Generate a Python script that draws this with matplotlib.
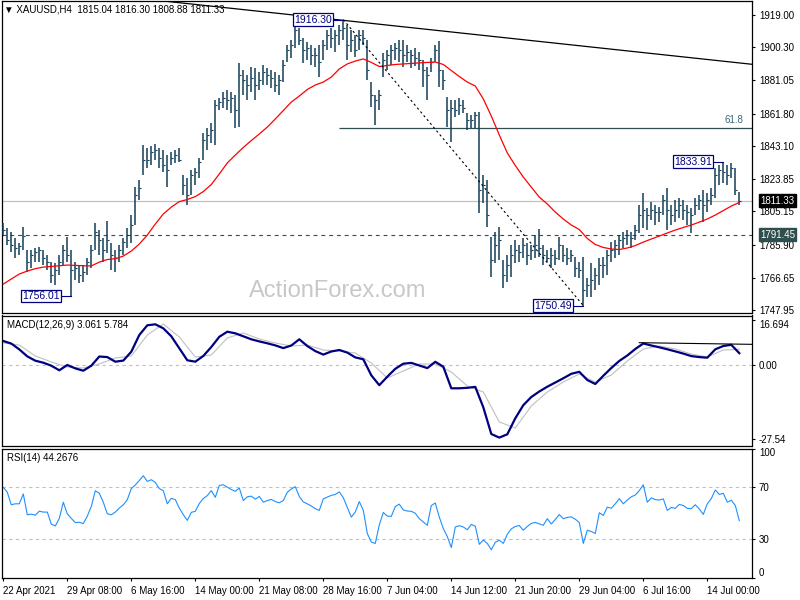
"""XAUUSD H4 chart with MACD and RSI panels (MT4 style)."""

import matplotlib

matplotlib.use("Agg")
import matplotlib.pyplot as plt  # noqa: E402
import matplotlib.transforms as mtransforms  # noqa: E402
import numpy as np  # noqa: E402

plt.rcParams["font.family"] = ["Liberation Sans", "DejaVu Sans"]

# ---- data ------------------------------------------------------------------
# price bars, one every 2nd H4 bar
BAR_STEP = 2
highs = [
    1798.4, 1795.5, 1793.1, 1789.7, 1786.8, 1796.0, 1782.7, 1782.7, 1783.9, 1784.4,
    1782.7, 1779.8, 1775.7, 1775.2, 1779.8, 1785.6, 1790.2, 1782.7, 1775.7, 1774.0,
    1774.0, 1778.1, 1785.6, 1798.4, 1794.3, 1789.7, 1799.5, 1786.8, 1782.7, 1785.6,
    1789.7, 1795.5, 1803.0, 1819.2, 1823.3, 1843.6, 1841.9, 1843.0, 1844.2, 1841.9,
    1840.7, 1837.8, 1839.5, 1840.7, 1841.9, 1826.2, 1824.5, 1829.1, 1830.3, 1836.1,
    1850.6, 1853.5, 1856.4, 1869.7, 1870.9, 1874.3, 1875.5, 1874.3, 1872.6, 1891.2,
    1887.1, 1884.2, 1888.8, 1888.3, 1885.9, 1890.0, 1888.3, 1887.1, 1885.9, 1884.2,
    1892.9, 1901.6, 1904.5, 1913.2, 1911.5, 1905.7, 1903.3, 1901.6, 1899.9, 1901.6,
    1904.5, 1910.3, 1911.5, 1910.3, 1913.2, 1916.3, 1913.2, 1910.3, 1907.4, 1910.3,
    1910.3, 1904.5, 1880.1, 1872.6, 1875.5, 1897.0, 1898.7, 1901.6, 1902.8, 1904.5,
    1904.5, 1901.6, 1898.7, 1899.9, 1897.5, 1892.9, 1888.8, 1894.1, 1901.6, 1903.9,
    1887.1, 1871.4, 1869.7, 1869.7, 1870.9, 1869.7, 1862.2, 1861.0, 1862.7, 1862.7,
    1826.2, 1823.3, 1790.2, 1793.1, 1796.0, 1776.9, 1779.8, 1785.6, 1788.5, 1785.6,
    1789.7, 1786.8, 1785.6, 1791.4, 1794.9, 1785.6, 1782.7, 1783.9, 1782.7, 1790.2,
    1785.6, 1783.9, 1782.7, 1778.6, 1775.7, 1778.6, 1766.5, 1775.2, 1772.3, 1778.1,
    1778.6, 1782.7, 1787.3, 1788.5, 1791.4, 1793.1, 1794.3, 1793.1, 1797.2, 1808.8,
    1815.8, 1807.1, 1810.5, 1808.8, 1807.6, 1814.6, 1818.7, 1808.8, 1811.7, 1812.9,
    1811.7, 1808.8, 1807.1, 1812.9, 1814.6, 1817.5, 1815.8, 1818.7, 1830.3, 1832.0,
    1833.9, 1832.0, 1833.2, 1830.3, 1816.3,
]
lows = [
    1791.4, 1785.6, 1781.5, 1778.1, 1779.8, 1782.7, 1769.9, 1772.3, 1775.7, 1775.7,
    1774.0, 1771.1, 1763.6, 1762.4, 1768.2, 1774.0, 1775.7, 1756.0, 1765.3, 1763.6,
    1764.1, 1768.2, 1772.3, 1782.7, 1779.8, 1775.7, 1781.0, 1771.1, 1769.9, 1775.7,
    1779.8, 1783.9, 1786.8, 1797.2, 1811.7, 1826.2, 1830.3, 1832.0, 1834.9, 1830.3,
    1827.9, 1819.2, 1832.0, 1833.2, 1833.9, 1814.6, 1808.8, 1814.6, 1820.4, 1824.5,
    1834.9, 1840.7, 1844.8, 1843.6, 1863.9, 1865.1, 1863.9, 1862.2, 1853.5, 1854.0,
    1872.6, 1869.7, 1874.3, 1869.7, 1875.5, 1878.4, 1878.4, 1876.7, 1874.3, 1872.6,
    1880.1, 1891.7, 1894.1, 1899.9, 1901.6, 1891.2, 1892.9, 1890.0, 1888.8, 1883.0,
    1892.9, 1898.7, 1899.9, 1897.5, 1901.6, 1904.5, 1892.9, 1897.5, 1894.6, 1898.7,
    1901.6, 1881.3, 1865.6, 1855.2, 1863.9, 1883.0, 1887.1, 1890.0, 1892.9, 1891.7,
    1888.8, 1891.7, 1888.3, 1889.4, 1887.1, 1877.2, 1869.7, 1885.9, 1891.7, 1877.2,
    1875.5, 1854.0, 1845.3, 1859.8, 1861.0, 1862.2, 1852.3, 1853.5, 1853.5, 1804.2,
    1810.0, 1796.0, 1767.0, 1775.2, 1776.9, 1760.7, 1764.1, 1767.0, 1775.2, 1775.7,
    1778.1, 1774.0, 1776.9, 1778.1, 1778.6, 1774.0, 1775.7, 1772.3, 1774.0, 1776.9,
    1775.7, 1774.0, 1775.7, 1767.0, 1766.5, 1750.5, 1755.4, 1755.4, 1759.5, 1762.4,
    1766.5, 1768.2, 1775.7, 1778.1, 1779.8, 1783.9, 1785.6, 1783.9, 1788.5, 1792.6,
    1795.5, 1794.3, 1800.1, 1797.2, 1798.9, 1803.0, 1794.3, 1797.2, 1798.9, 1801.3,
    1800.1, 1797.2, 1792.6, 1803.0, 1805.9, 1798.9, 1804.7, 1808.8, 1812.9, 1820.4,
    1821.6, 1820.4, 1824.5, 1814.6, 1808.9,
]
closes = [
    1794.3, 1788.5, 1785.6, 1783.9, 1785.0, 1790.8, 1775.7, 1779.8, 1781.5, 1782.7,
    1778.1, 1775.7, 1768.2, 1771.1, 1775.7, 1782.7, 1779.8, 1771.1, 1772.3, 1768.2,
    1769.9, 1775.7, 1782.7, 1793.1, 1788.5, 1782.7, 1788.5, 1779.8, 1778.1, 1782.7,
    1787.3, 1791.4, 1797.2, 1814.6, 1818.7, 1834.9, 1834.9, 1839.5, 1840.7, 1836.1,
    1832.0, 1829.1, 1836.1, 1837.8, 1834.9, 1820.4, 1814.6, 1826.2, 1827.9, 1833.7,
    1846.5, 1849.4, 1852.3, 1866.8, 1868.5, 1870.9, 1869.7, 1870.9, 1863.9, 1884.2,
    1881.3, 1878.4, 1882.5, 1878.4, 1881.3, 1885.9, 1884.2, 1882.5, 1878.4, 1881.3,
    1890.0, 1898.7, 1901.6, 1910.3, 1904.5, 1898.7, 1899.9, 1895.8, 1895.8, 1891.7,
    1901.6, 1907.4, 1905.7, 1907.4, 1910.3, 1911.5, 1901.6, 1904.5, 1898.7, 1907.4,
    1905.7, 1887.1, 1872.6, 1869.7, 1872.6, 1892.9, 1895.8, 1898.7, 1899.9, 1898.7,
    1895.8, 1897.5, 1895.8, 1894.1, 1892.9, 1887.1, 1884.2, 1891.7, 1898.7, 1887.1,
    1881.3, 1863.9, 1865.1, 1863.9, 1866.8, 1865.1, 1858.1, 1858.1, 1861.0, 1817.5,
    1820.4, 1803.0, 1776.9, 1785.6, 1788.5, 1768.2, 1774.0, 1779.8, 1782.7, 1781.5,
    1785.6, 1779.8, 1782.7, 1785.6, 1783.9, 1779.8, 1778.1, 1779.8, 1778.1, 1785.6,
    1779.8, 1778.1, 1779.8, 1772.3, 1771.1, 1759.5, 1762.4, 1765.3, 1768.2, 1774.0,
    1774.0, 1779.8, 1782.7, 1785.6, 1788.5, 1789.7, 1791.4, 1789.7, 1794.3, 1803.0,
    1805.9, 1803.0, 1805.9, 1804.7, 1804.7, 1811.7, 1805.9, 1803.0, 1805.9, 1808.8,
    1805.9, 1804.7, 1803.0, 1808.8, 1811.7, 1808.8, 1811.7, 1814.6, 1826.2, 1829.1,
    1827.9, 1826.2, 1830.3, 1817.5, 1811.3,
]

# moving average and MACD main line, sampled every 4 bars
LINE_STEP = 4
ma_line = [
    1763.0, 1765.9, 1768.8, 1770.5, 1771.9, 1772.8, 1773.2, 1773.6, 1774.0, 1773.8,
    1773.6, 1773.5, 1775.7, 1777.2, 1777.7, 1779.2, 1782.1, 1786.2, 1791.4, 1797.8,
    1803.6, 1807.6, 1810.8, 1812.0, 1813.7, 1816.6, 1820.7, 1826.8, 1833.2, 1837.8,
    1842.2, 1846.2, 1850.0, 1854.0, 1858.7, 1863.6, 1868.5, 1872.0, 1875.8, 1878.4,
    1880.1, 1883.0, 1887.7, 1890.6, 1892.3, 1893.5, 1891.5, 1889.1, 1889.7, 1890.3,
    1890.6, 1890.9, 1891.2, 1891.5, 1891.7, 1890.3, 1886.8, 1883.3, 1880.1, 1877.8,
    1870.3, 1860.4, 1849.4, 1839.0, 1831.7, 1825.0, 1819.2, 1813.4, 1809.4, 1804.7,
    1800.7, 1797.2, 1794.6, 1789.4, 1785.9, 1784.2, 1783.3, 1783.0, 1783.9, 1785.3,
    1787.3, 1789.1, 1790.8, 1792.6, 1794.3, 1795.8, 1797.2, 1798.9, 1800.7, 1803.0,
    1805.6, 1808.2, 1810.3,
]
macd_main = [
    8.92, 7.96, 5.80, 3.20, 1.60, 0.86, -0.26, -1.97, 0.00, -1.26,
    -2.12, -0.26, 3.16, 2.94, 1.23, 1.64, 4.94, 11.15, 14.76, 15.13,
    13.64, 10.67, 6.21, 1.75, 1.23, 3.35, 6.69, 10.48, 12.38, 11.78,
    10.67, 9.55, 8.77, 8.07, 7.29, 6.28, 7.25, 9.55, 7.06, 5.17,
    3.87, 5.02, 5.58, 4.61, 2.83, 2.12, -3.83, -7.51, -4.35, -1.41,
    0.48, 0.78, -0.19, -1.15, 1.19, -0.63, -8.66, -8.66, -8.48, -8.14,
    -15.72, -25.65, -26.99, -25.76, -19.81, -14.94, -11.90, -9.85, -8.07, -6.51,
    -4.94, -3.27, -2.53, -5.58, -7.06, -4.01, -1.12, 1.52, 3.53, 5.95,
    7.99, 7.25, 6.58, 5.84, 5.06, 4.24, 3.31, 2.94, 2.71, 5.84,
    7.06, 7.51, 4.39,
]
# MACD signal line, sampled every 8 bars
SIG_STEP = 8
macd_signal = [
    8.18, 7.43, 3.35, 1.12, -0.74, -1.12, 0.37, 2.60, 3.35, 11.15,
    15.24, 10.41, 2.97, 3.72, 10.04, 11.90, 9.67, 8.18, 7.06, 7.43,
    5.58, 5.20, 4.46, 0.74, -4.83, -2.23, 0.37, 0.37, -2.60, -7.81,
    -10.04, -21.19, -23.42, -15.24, -10.04, -6.32, -3.35, -6.32, -3.72, 1.49,
    5.95, 7.06, 5.95, 4.09, 2.97, 5.58, 5.78,
]

# RSI(14) sampled every 2 bars
RSI_STEP = 2
rsi_line = [
    70.0, 66.2, 56.5, 57.3, 57.3, 64.9, 48.9, 49.3, 48.5, 51.6,
    50.9, 50.9, 41.6, 40.2, 46.0, 58.5, 49.6, 46.0, 42.8, 43.0,
    42.0, 47.8, 55.2, 67.4, 65.4, 58.5, 49.6, 48.8, 50.9, 54.0,
    56.5, 60.5, 69.0, 71.8, 75.3, 79.0, 74.6, 75.9, 73.8, 69.1,
    67.4, 57.3, 61.5, 60.5, 54.0, 48.9, 44.5, 50.7, 51.5, 57.5,
    61.4, 63.6, 67.5, 62.3, 71.5, 72.0, 70.1, 68.3, 66.9, 69.5,
    59.8, 62.7, 63.2, 60.9, 63.0, 58.5, 59.8, 60.7, 59.0, 58.1,
    59.8, 66.2, 68.8, 70.5, 62.9, 58.7, 57.3, 55.6, 53.5, 52.2,
    61.1, 62.5, 63.8, 64.5, 66.5, 62.0, 54.4, 47.0, 51.0, 59.0,
    52.2, 34.4, 27.7, 26.7, 41.0, 50.6, 47.8, 47.6, 55.2, 57.0,
    52.6, 51.7, 51.5, 50.0, 45.8, 43.3, 40.7, 56.0, 57.9, 47.0,
    38.2, 32.0, 23.5, 39.4, 40.4, 39.4, 37.3, 41.4, 40.0, 26.0,
    29.3, 26.7, 21.8, 27.6, 29.2, 26.7, 33.8, 37.9, 39.8, 40.5,
    36.9, 39.8, 42.2, 42.9, 41.8, 40.7, 45.8, 41.7, 45.2, 49.0,
    45.8, 46.8, 47.2, 45.4, 42.8, 26.7, 36.9, 35.9, 34.4, 50.4,
    48.3, 54.7, 53.9, 57.3, 61.3, 57.3, 60.2, 62.7, 64.1, 67.5,
    72.0, 58.5, 61.9, 60.5, 60.2, 61.1, 52.2, 54.5, 53.8, 56.8,
    56.0, 53.8, 53.5, 56.6, 53.3, 49.1, 57.3, 61.3, 68.0, 64.5,
    65.4, 58.5, 60.1, 56.0, 44.3,
]

# annotations
trend_bars = [80, 380]
trend_prices = [1927.1, 1889.7]
swing_bars = [170, 290]
swing_prices = [1916.30, 1750.49]
extreme_bars = [34, 170, 290, 360]
extreme_prices = [1756.01, 1916.30, 1750.49, 1833.91]
fib_start_bar = 168
fib_price = 1853.5
last_price = 1811.33
support_price = 1791.45
macd_tl_bars = [318, 380]
macd_tl_vals = [8.29, 7.62]

price_ticks = [1919.00, 1900.30, 1881.05, 1861.80, 1843.10,
               1823.85, 1805.15, 1785.90, 1766.65, 1747.95]
DATE_STEP = 32
date_labels = ["22 Apr 2021", "29 Apr 08:00", "6 May 16:00", "14 May 00:00",
               "21 May 08:00", "28 May 16:00", "7 Jun 04:00", "14 Jun 12:00",
               "21 Jun 20:00", "29 Jun 04:00", "6 Jul 16:00", "14 Jul 00:00"]

# ---- style -----------------------------------------------------------------
BAR_C = "#143f57"
MA_C = "#ff0000"
NAVY = "#000080"
SLATE = "#2f4f4f"
SILVER = "#c0c0c0"
RSI_C = "#1e90ff"
FS = 7

W, H = 800, 600
fig = plt.figure(figsize=(8, 6), dpi=100)


def panel(top, bottom):
    return fig.add_axes([2 / W, 1 - bottom / H, 750 / W, (bottom - top) / H])


ax = panel(1, 313)
am = panel(315.5, 446)
ar = panel(448.5, 578)

for a in (ax, am, ar):
    a.set_xlim(-0.65, 374.35)
    a.yaxis.tick_right()
    a.tick_params(axis="y", direction="out", length=2.5, width=0.8, labelsize=FS, pad=2.5)
    a.tick_params(axis="x", bottom=False, labelbottom=False)
    for s in a.spines.values():
        s.set_linewidth(0.9)

# ---- price panel -----------------------------------------------------------
bar_idx = np.arange(len(highs)) * BAR_STEP
ax.vlines(bar_idx, lows, highs, color=BAR_C, lw=1.1, zorder=3)
ax.hlines(closes, bar_idx, bar_idx + 0.7, color=BAR_C, lw=0.8, zorder=3)
ax.plot(np.arange(len(ma_line)) * LINE_STEP, ma_line, color=MA_C, lw=0.9, zorder=4)

ax.plot(trend_bars, trend_prices, color="black", lw=0.9, zorder=4)
ax.plot(swing_bars, swing_prices, color="black", lw=0.8, ls=(0, (2, 2.5)), zorder=4)
ax.axhline(last_price, color=SILVER, lw=0.9, zorder=1)
ax.axhline(support_price, color=SLATE, lw=0.8, ls=(0, (3.5, 3.5)), zorder=1)
ax.hlines(fib_price, fib_start_bar, 380, color=SLATE, lw=0.9, zorder=1)
ax.text(370, fib_price + 1.6, "61.8", color="#3a6578", fontsize=FS, ha="right", va="bottom")

for b, p in zip(extreme_bars, extreme_prices):
    ax.plot([b - 5, b], [p, p], color=NAVY, lw=0.8, zorder=5)
    ax.text(b - 5.6, p, f"{p:.2f}", color=NAVY, fontsize=7.5, ha="right", va="center",
            zorder=6, bbox={"boxstyle": "square,pad=0.12", "fc": "white", "ec": NAVY, "lw": 0.9})

ax.set_ylim(1746.2, 1927.1)
ax.set_yticks(price_ticks)
ax.set_yticklabels([f"{v:.2f}" for v in price_ticks])

blend = mtransforms.blended_transform_factory(ax.transAxes, ax.transData)
for p, bg in ((last_price, "black"), (support_price, SLATE)):
    ax.text(1.0107, p, f"{p:.2f}", transform=blend, color="white", fontsize=FS,
            ha="left", va="center", zorder=7,
            bbox={"boxstyle": "square,pad=0.15", "fc": bg, "ec": bg})

ax.text(0.447, 0.07, "ActionForex.com", transform=ax.transAxes, fontsize=17,
        color="#c8c8c8", ha="center", va="center", zorder=0)
fig.text(4 / W, 1 - 10 / H, "\u25bc XAUUSD,H4  1815.04 1816.30 1808.88 1811.33",
         fontsize=FS, va="center", ha="left")

# ---- MACD panel ------------------------------------------------------------
am.axhline(0, color=SILVER, lw=0.8, ls=(0, (3, 3)))
am.plot(np.arange(len(macd_signal)) * SIG_STEP, macd_signal, color=SILVER, lw=0.8)
am.plot(np.arange(len(macd_main)) * LINE_STEP, macd_main, color=NAVY, lw=1.6)
am.plot(macd_tl_bars, macd_tl_vals, color="black", lw=0.8)
am.set_ylim(-30.11, 18.40)
am.set_yticks([16.694, 0.0, -27.54])
am.set_yticklabels(["16.694", "0.00", "-27.54"])
am.get_yticklabels()[0].set_va("top")
fig.text(7 / W, 1 - 325 / H, "MACD(12,26,9) 3.061 5.784", fontsize=FS, va="center")

# ---- RSI panel -------------------------------------------------------------
for lvl in (70, 30):
    ar.axhline(lvl, color=SILVER, lw=0.8, ls=(0, (3, 3)))
ar.plot(np.arange(len(rsi_line)) * RSI_STEP, rsi_line, color=RSI_C, lw=0.8)
ar.set_ylim(0, 100)
ar.set_yticks([100, 70, 30, 0])
ar.set_yticklabels(["100", "70", "30", "0"])
ylabs = ar.get_yticklabels()
ylabs[0].set_va("top")
ylabs[-1].set_va("bottom")
fig.text(7 / W, 1 - 458 / H, "RSI(14) 44.2676", fontsize=FS, va="center")

ar.set_xticks(np.arange(len(date_labels)) * DATE_STEP)
ar.set_xticklabels(date_labels)
ar.tick_params(axis="x", bottom=True, labelbottom=True, direction="out",
               length=2.5, width=0.8, labelsize=FS, pad=3)
for lbl in ar.get_xticklabels():
    lbl.set_ha("left")

fig.savefig("out.png", dpi=100)
